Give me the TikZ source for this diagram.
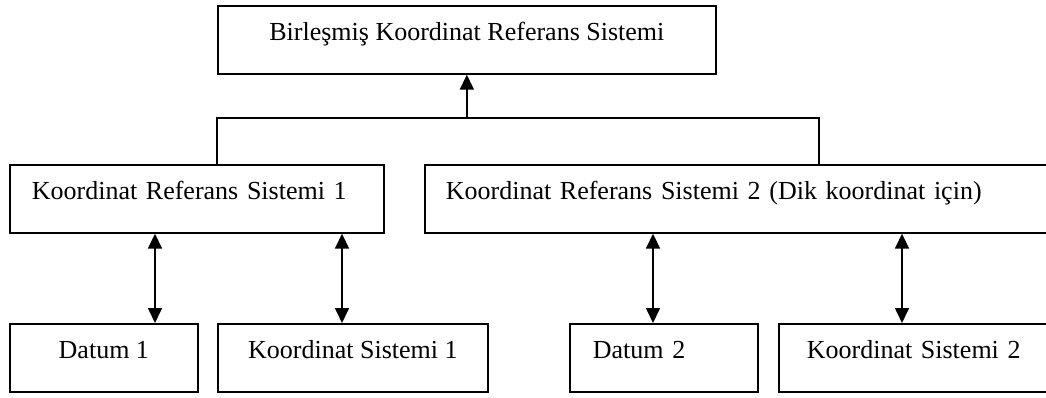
\documentclass[tikz,border=0pt]{standalone}
\usepackage{fontspec}
\setmainfont{Liberation Serif}
\usetikzlibrary{arrows.meta,calc}
\begin{document}
\begin{tikzpicture}[x=1pt,y=-1pt,
  box/.style={draw, line width=1.7pt, inner ysep=0pt, text height=35pt, text depth=33pt,
    anchor=north west, font=\fontsize{26}{30}\selectfont},
  cbox/.style={box, inner xsep=0pt, minimum width=#1},
  lbox/.style 2 args={box, inner xsep=#2, text width=#1, align=left},
  conn/.style={line width=1.7pt},
  tip/.style={conn, -{Triangle[length=15pt,width=14pt]}},
  dtip/.style={conn, {Triangle[length=15pt,width=14pt]}-{Triangle[length=15pt,width=14pt]}}
]
\clip (0,0) rectangle (1046,398);
\node[cbox=498pt] (top) at (217,5) {Birleşmiş Koordinat Referans Sistemi};
\node[lbox={330pt}{22pt}] (krs1) at (9,164) {Koordinat Referans Sistemi 1};
\node[lbox={700pt}{21pt}] (krs2) at (424,164) {Koordinat Referans Sistemi 2 (Dik koordinat için)};
\node[cbox=188pt] (d1) at (9,323) {Datum 1};
\node[cbox=270pt] (ks1) at (217,323) {Koordinat Sistemi 1};
\node[lbox={142pt}{23pt}] (d2) at (569,323) {Datum 2};
\node[lbox={400pt}{28pt}] (ks2) at (778,323) {Koordinat Sistemi 2};

\coordinate (bl) at (217,118);
\coordinate (br) at (819,118);
\coordinate (a1) at (155,0);
\coordinate (a2) at (342,0);
\coordinate (a3) at (653,0);
\coordinate (a4) at (902,0);

\draw[conn] (bl |- krs1.north) -- (bl) -- (br) -- (br |- krs2.north);
\draw[tip] (top.south |- bl) -- (top.south);
\draw[dtip] (a1 |- krs1.south) -- (a1 |- d1.north);
\draw[dtip] (a2 |- krs1.south) -- (a2 |- ks1.north);
\draw[dtip] (a3 |- krs2.south) -- (a3 |- d2.north);
\draw[dtip] (a4 |- krs2.south) -- (a4 |- ks2.north);
\end{tikzpicture}
\end{document}
